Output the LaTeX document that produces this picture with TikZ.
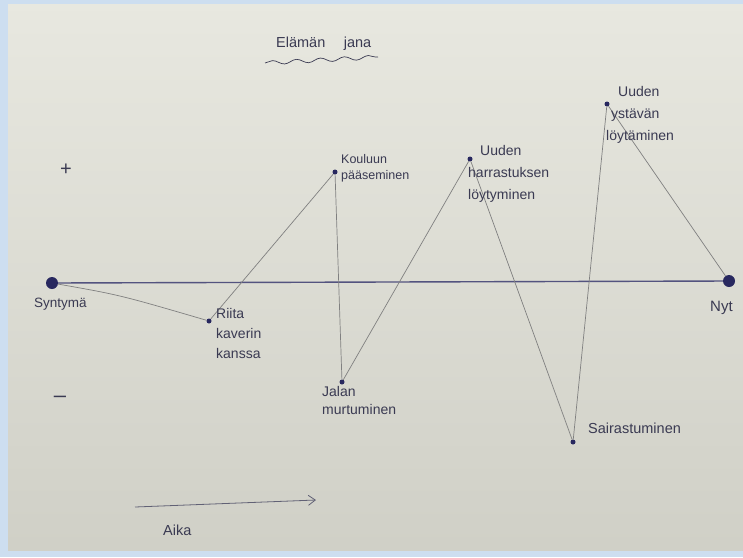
\documentclass[tikz,border=0pt]{standalone}
\usepackage{fontspec}
\setmainfont{Liberation Sans}
\usetikzlibrary{decorations.pathmorphing,arrows.meta}
\definecolor{paper}{RGB}{226,226,216}
\definecolor{frame}{RGB}{205,222,240}
\definecolor{ink}{RGB}{58,58,82}
\definecolor{pencil}{RGB}{128,128,128}
\definecolor{dotblue}{RGB}{40,40,95}
\tikzset{
  lbl/.style={font=\fontsize{13.5}{18}\selectfont, text=ink, inner sep=0pt, align=left},
  ev/.style={circle, fill=dotblue, inner sep=0pt, minimum size=5pt},
  endpt/.style={circle, fill=dotblue, inner sep=0pt, minimum size=12pt},
  pline/.style={draw=pencil, line width=0.7pt},
}
\begin{document}
\begin{tikzpicture}[x=1pt,y=-1pt]
\useasboundingbox (0,0) rectangle (743,557);
\fill[frame] (0,0) rectangle (743,557);
\shade[top color=paper!80!white, bottom color=paper!92!black] (8,4) rectangle (743,550);
% events
\node[endpt] (syn) at (52,283) {};
\node[endpt] (nyt) at (729,281) {};
\node[ev] (riita) at (209,321) {};
\node[ev] (koulu) at (335,172) {};
\node[ev] (jalan) at (342,382) {};
\node[ev] (harr) at (470,159) {};
\node[ev] (sair) at (573,442) {};
\node[ev] (ysta) at (607,104) {};
% axis
\draw[dotblue!80, line width=1.4pt] (syn) -- (nyt);
% life line
\draw[pline] (syn) .. controls (120,295) .. (riita);
\draw[pline] (riita) -- (koulu) -- (jalan) -- (harr) -- (sair) -- (ysta) -- (nyt);
% labels
\node[lbl, anchor=west, font=\fontsize{14.5}{18}\selectfont] (title) at (276,44) {Elämän \quad jana};
\draw[ink, line width=0.7pt, decorate, decoration={snake, amplitude=2pt, segment length=24pt}] (265,63) -- (378,57);
\node[lbl, font=\fontsize{20}{20}\selectfont, text=ink] (plus) at (66,170) {+};
\node[lbl, font=\fontsize{22}{20}\selectfont, text=ink] (minus) at (60,399) {--};
\node[lbl, anchor=north west] (lsyn) at (34,298) {Syntymä};
\node[lbl, anchor=north west, font=\fontsize{14}{20}\selectfont] (lriita) at (216,308) {Riita\\kaverin\\kanssa};
\node[lbl, anchor=north west, font=\fontsize{12.5}{16}\selectfont] (lkoulu) at (341,154) {Kouluun\\pääseminen};
\node[lbl, anchor=north west, font=\fontsize{14}{18}\selectfont] (ljalan) at (322,386) {Jalan\\murtuminen};
\node[lbl, anchor=north west, font=\fontsize{14}{22}\selectfont] (lharr) at (468,145) {\hspace*{12pt}Uuden\\harrastuksen\\löytyminen};
\node[lbl, anchor=west, font=\fontsize{14.5}{18}\selectfont] (lsair) at (588,428) {Sairastuminen};
\node[lbl, anchor=north west, font=\fontsize{14}{22}\selectfont] (lysta) at (606,86) {\hspace*{12pt}Uuden\\\hspace*{5pt}ystävän\\löytäminen};
\node[lbl, anchor=north west, font=\fontsize{15}{18}\selectfont] (lnyt) at (710,301) {Nyt};
% time arrow
\coordinate (a1) at (135,507);
\coordinate (a2) at (316,500);
\draw[ink!80, line width=0.8pt, -{Straight Barb[length=7pt,width=10pt]}] (a1) -- (a2);
\node[lbl, anchor=west, font=\fontsize{14.5}{18}\selectfont] (aika) at (163,530) {Aika};
\end{tikzpicture}
\end{document}
